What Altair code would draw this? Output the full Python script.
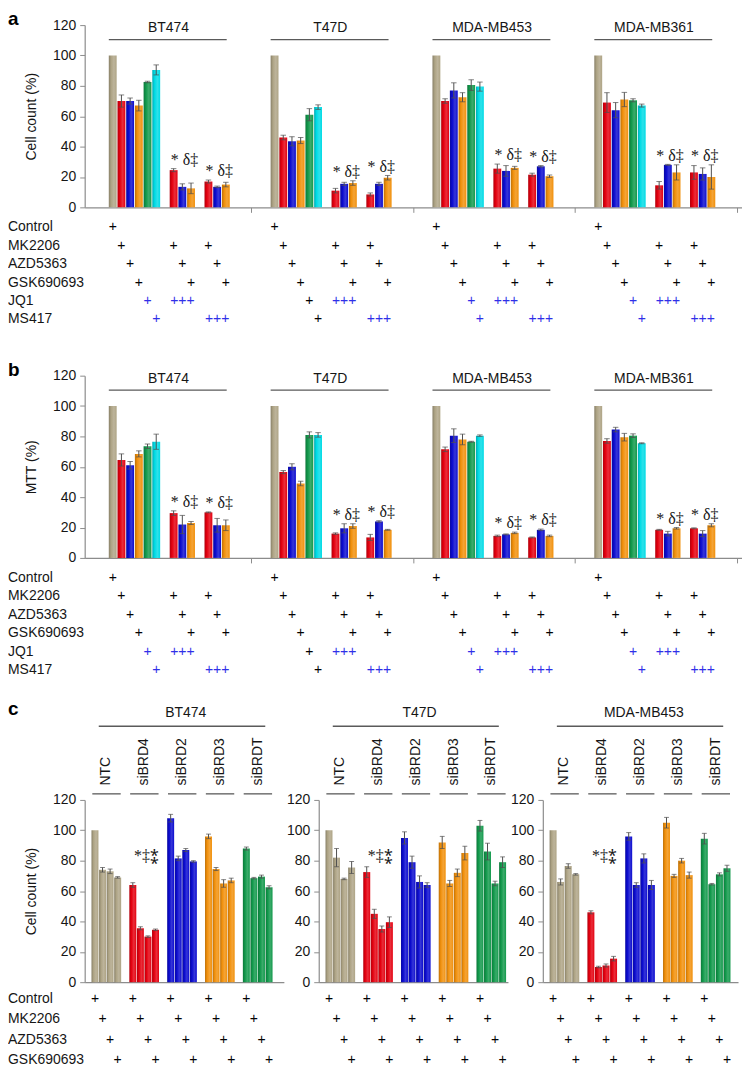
import altair as alt
import pandas as pd

FONT = "Liberation Sans"
SERIF = "Liberation Serif"
INK = "#161616"
BLUE_INK = "#2d2de8"
AXIS_GREY = "#8c8c8c"
LINE_GREY = "#5a5a5a"
ERR_GREY = "#4f4f4f"

series_names = ["tan", "red", "blue", "orange", "green", "cyan"]
series_colors = ["#aea485", "#e4000f", "#0b0bcf", "#f1900b", "#11994b", "#00dbe5"]

# ---------------- panels a and b ----------------
cells_ab = ["BT474", "T47D", "MDA-MB453", "MDA-MB361"]
treatments_ab = ["Control", "MK2206", "AZD5363", "GSK690693", "JQ1", "MS417",
                 "MK2206+JQ1", "AZD5363+JQ1", "GSK690693+JQ1",
                 "MK2206+MS417", "AZD5363+MS417", "GSK690693+MS417"]
series_ab = ["tan", "red", "blue", "orange", "green", "cyan",
             "red", "blue", "orange", "red", "blue", "orange"]
slot_ab = [0, 1, 2, 3, 4, 5, 7, 8, 9, 11, 12, 13]
combo_groups_ab = [[6, 7, 8], [9, 10, 11]]
rows_ab = ["Control", "MK2206", "AZD5363", "GSK690693", "JQ1", "MS417"]

sign_row_ab = ["Control", "MK2206", "MK2206", "MK2206", "AZD5363", "AZD5363", "AZD5363",
               "GSK690693", "GSK690693", "GSK690693", "JQ1", "JQ1", "MS417", "MS417"]
sign_slot_ab = [0, 1, 7, 11, 2, 8, 12, 3, 9, 13, 4, 8, 5, 12]
sign_text_ab = ["+", "+", "+", "+", "+", "+", "+", "+", "+", "+", "+", "+++", "+", "+++"]
sign_blue_ab = [False] * 10 + [True, True, True, True]
black_single_cells = ["T47D"]

# panel a: cell count (%)
a_bt474 = [100, 70, 70, 67, 82.5, 90.5, 24.5, 13.5, 12.5, 17, 13.5, 15]
a_bt474_err = [0, 4, 2, 3.5, 0.5, 3.3, 1, 2, 3.5, 1, 0.5, 1.5]
a_t47d = [100, 46, 43.5, 44, 61, 66, 11, 15.5, 16, 8.5, 15.5, 19.5]
a_t47d_err = [0, 1.5, 3, 2, 4, 1.5, 1.5, 1, 1.5, 1, 1, 1.5]
a_mb453 = [100, 70, 77, 72.5, 80.5, 79.5, 25.5, 24, 26, 21.5, 27, 20.5]
a_mb453_err = [0, 1.5, 5, 3, 3.5, 3, 3, 3.5, 1, 1, 0.5, 0.8]
a_mb361 = [100, 69, 64, 71, 70.5, 67, 14.5, 28, 23, 23, 22, 20]
a_mb361_err = [0, 6.5, 5, 4.7, 1, 1, 2.5, 0.3, 5, 4.5, 4, 8]

# panel b: MTT (%)
b_bt474 = [100, 64.5, 61, 68.5, 73.5, 76.5, 29.5, 22, 23, 30, 21.5, 21.5]
b_bt474_err = [0, 4, 2.5, 2, 1.5, 5, 1.5, 6, 1, 0.3, 4.5, 3.5]
b_t47d = [100, 56.5, 60, 49, 81, 81, 16, 19.5, 21, 13.5, 24, 18.5]
b_t47d_err = [0, 1, 2, 1.5, 2, 1.5, 0.5, 3, 1.5, 2, 0.5, 0.3]
b_mb453 = [100, 71.5, 80.5, 78, 76.5, 80.5, 14.5, 15.5, 16.5, 13.5, 18.5, 14.5]
b_mb453_err = [0, 1.5, 4.5, 3.5, 0.3, 0.5, 0.5, 0.3, 0.5, 0.3, 0.5, 0.5]
b_mb361 = [100, 77, 84.5, 79.5, 80.5, 75.5, 18.5, 16, 19.5, 19.5, 16, 21.5]
b_mb361_err = [0, 1.5, 1.5, 2.5, 1.2, 0.3, 0.3, 1.5, 0.5, 0.3, 2, 1]

# ---------------- panel c ----------------
cells_c = ["BT474", "T47D", "MDA-MB453"]
sirna_c = ["NTC", "siBRD4", "siBRD2", "siBRD3", "siBRDT"]
sirna_series_c = ["tan", "red", "blue", "orange", "green"]
rows_c = ["Control", "MK2206", "AZD5363", "GSK690693"]

c_bt474 = [100, 74, 73, 69, 64, 35.5, 30, 34.5, 108, 81.5, 87, 79.5,
           96, 74.5, 65, 67, 88, 68.5, 69.5, 62.5]
c_bt474_err = [0, 1.5, 1.5, 0.5, 1.5, 1, 0.5, 0.5, 2.5, 1.5, 1, 0.5,
               1.5, 1, 2.5, 1.5, 1, 0.5, 1, 1]
c_t47d = [100, 82, 68, 75.5, 72.5, 45, 35, 39.5, 95, 79, 66, 64,
          92, 65, 72, 85, 103, 86, 65, 79]
c_t47d_err = [0, 6, 0.5, 4, 3.5, 3, 2, 3.5, 4, 4, 4, 1.5,
              4, 2, 2.5, 4.5, 3.5, 5.5, 1.5, 3.5]
c_mb453 = [100, 66, 76.5, 71, 46, 10, 11, 15.5, 96, 64, 81.5, 64,
           105, 70, 80, 70.5, 94.5, 64.5, 71, 75]
c_mb453_err = [0, 2, 1.5, 0.5, 1, 0.5, 1, 1.5, 2.5, 1.5, 3, 3,
               3.5, 1, 1.5, 2, 3.5, 0.5, 1, 2]

# ---------------- layout constants ----------------
H = 183
BLOCK_AB = 18.6
X0_AB = -2.65
W_AB = 660
ROW_TOP_AB = 20
ROW_GAP_AB = 18.5
ROW_TOP_C = 17
ROW_GAP_C = 20.3
LABEL_X = -77
YTICKS = [0, 20, 40, 60, 80, 100, 120]

yscale = alt.Scale(domain=[0, 120], nice=False)


def mix(c1, c2, t):
    a = [int(c1[i:i + 2], 16) for i in (1, 3, 5)]
    b = [int(c2[i:i + 2], 16) for i in (1, 3, 5)]
    return "#" + "".join(f"{round(x + (y - x) * t):02x}" for x, y in zip(a, b))


def bar_fill(base):
    return alt.LinearGradient(
        gradient="linear", x1=0, x2=1, y1=0, y2=0,
        stops=[alt.GradientStop(color=mix(base, "#000000", 0.22), offset=0),
               alt.GradientStop(color=base, offset=0.3),
               alt.GradientStop(color=mix(base, "#ffffff", 0.18), offset=0.65),
               alt.GradientStop(color=base, offset=1)])


def y_axis(title):
    return alt.Axis(values=YTICKS, title=title, tickSize=5, labelPadding=4,
                    titlePadding=14, domainColor=AXIS_GREY, tickColor=AXIS_GREY,
                    domainWidth=1.2, grid=False, labelFontSize=14, titleFontSize=14,
                    labelColor=INK, titleColor=INK, labelFont=FONT, titleFont=FONT,
                    titleFontWeight="normal")


class Enc:
    def __init__(self, xscale, xaxis, yaxis):
        self.xscale, self.xaxis, self.yaxis = xscale, xaxis, yaxis

    def x(self, f):
        return alt.X(f"{f}:Q", scale=self.xscale, axis=self.xaxis)

    def y(self, f):
        return alt.Y(f"{f}:Q", scale=yscale, axis=self.yaxis)


def bar_layers(df, enc, barsize):
    out = []
    for name, base in zip(series_names, series_colors):
        sub = df[df.series == name]
        if len(sub) == 0:
            continue
        out.append(alt.Chart(sub).mark_bar(size=barsize, color=bar_fill(base)).encode(
            x=enc.x("x"), y=enc.y("v")))
    edf = df[df.e > 0]
    rule = alt.Chart(edf).mark_rule(color=ERR_GREY, strokeWidth=1).encode(
        x=enc.x("x"), y=enc.y("lo"), y2="hi:Q")
    cap_lo = alt.Chart(edf).mark_tick(orient="horizontal", size=barsize * 0.7,
                                      thickness=1, color=ERR_GREY).encode(
        x=enc.x("x"), y=enc.y("lo"))
    cap_hi = alt.Chart(edf).mark_tick(orient="horizontal", size=barsize * 0.7,
                                      thickness=1, color=ERR_GREY).encode(
        x=enc.x("x"), y=enc.y("hi"))
    return out + [rule, cap_lo, cap_hi]


def make_ab(panel_letter, ytitle, vals, errs):
    recs = []
    for g, cell in enumerate(cells_ab):
        for i, t in enumerate(treatments_ab):
            v, e = vals[g][i], errs[g][i]
            recs.append({"cell": cell, "treat": t, "series": series_ab[i],
                         "x": g * BLOCK_AB + slot_ab[i], "v": v, "e": e,
                         "lo": v - e, "hi": v + e})
    df = pd.DataFrame(recs)

    xscale = alt.Scale(domain=[X0_AB, X0_AB + 4 * BLOCK_AB], nice=False, zero=False)
    xaxis = alt.Axis(values=[round(X0_AB + k * BLOCK_AB, 3) for k in range(1, 5)],
                     labels=False, title=None, grid=False, tickSize=5, tickColor=AXIS_GREY,
                     domainColor=AXIS_GREY, domainWidth=1.2)
    enc = Enc(xscale, xaxis, y_axis(ytitle))
    layers = bar_layers(df, enc, 7.9)

    head = pd.DataFrame({
        "cell": cells_ab,
        "xc": [g * BLOCK_AB + 6.4 for g in range(4)],
        "x1": [g * BLOCK_AB - 0.45 for g in range(4)],
        "x2": [g * BLOCK_AB + 13.1 for g in range(4)],
        "yt": [118] * 4, "yl": [110.5] * 4,
    })
    head_text = alt.Chart(head).mark_text(fontSize=14, color=INK, baseline="middle").encode(
        x=enc.x("xc"), y=enc.y("yt"), text="cell:N")
    head_rule = alt.Chart(head).mark_rule(color=LINE_GREY, strokeWidth=1.3).encode(
        x=enc.x("x1"), x2="x2:Q", y=enc.y("yl"))

    arecs = []
    for cell in cells_ab:
        sub = df[df.cell == cell].reset_index(drop=True)
        for grp in combo_groups_ab:
            arecs.append({"x": sub.loc[grp[1], "x"] + 0.25,
                          "y": sub.loc[grp, "hi"].max() + 2.5, "t": "* δ‡"})
    annot = alt.Chart(pd.DataFrame(arecs)).mark_text(
        font=SERIF, fontSize=16, color=INK, baseline="alphabetic").encode(
        x=enc.x("x"), y=enc.y("y"), text="t:N")

    letter = alt.Chart(pd.DataFrame({"t": [panel_letter]})).mark_text(
        fontSize=19, fontWeight="bold", color="#000", align="left", baseline="middle").encode(
        x=alt.value(LABEL_X), y=alt.value(-6), text="t:N")

    main = alt.layer(*layers, head_rule, head_text, annot, letter)

    srecs = []
    for g, cell in enumerate(cells_ab):
        for r, s, t, b in zip(sign_row_ab, sign_slot_ab, sign_text_ab, sign_blue_ab):
            blue = b and not (cell in black_single_cells and t == "+")
            srecs.append({"x": g * BLOCK_AB + s, "ri": rows_ab.index(r), "t": t,
                          "ink": "blue" if blue else "black"})
    sdf = pd.DataFrame(srecs)
    yrow = alt.Y("ri:Q", scale=alt.Scale(domain=[0, len(rows_ab) - 1], nice=False, zero=False,
                                         range=[H + ROW_TOP_AB,
                                                H + ROW_TOP_AB + (len(rows_ab) - 1) * ROW_GAP_AB]),
                 axis=None)
    signs_k = alt.Chart(sdf[sdf.ink == "black"]).mark_text(
        fontSize=14, color="#000000", opacity=0.99, baseline="middle").encode(
        x=enc.x("x"), y=yrow, text="t:N")
    signs_b = alt.Chart(sdf[sdf.ink == "blue"]).mark_text(
        fontSize=14, color=BLUE_INK, opacity=0.99, baseline="middle").encode(
        x=enc.x("x"), y=yrow, text="t:N")
    rlab = alt.Chart(pd.DataFrame({"ri": list(range(len(rows_ab))), "t": rows_ab})).mark_text(
        fontSize=14, color=INK, align="left", baseline="middle").encode(
        x=alt.value(LABEL_X), y=yrow, text="t:N")
    rows_layer = alt.layer(signs_k, signs_b, rlab)

    return alt.layer(main, rows_layer).resolve_scale(y="independent").properties(
        width=W_AB, height=H)


def make_c(idx, vals, errs, xmax):
    cell = cells_c[idx]
    first = idx == 0
    recs = []
    for g, s in enumerate(sirna_c):
        for b in range(4):
            k = g * 4 + b
            v, e = vals[k], errs[k]
            recs.append({"sirna": s, "series": sirna_series_c[g], "x": g * 5 + b,
                         "v": v, "e": e, "lo": v - e, "hi": v + e})
    df = pd.DataFrame(recs)
    xscale = alt.Scale(domain=[-0.7, xmax], nice=False, zero=False)
    xaxis = alt.Axis(labels=False, ticks=False, title=None, grid=False,
                     domainColor=AXIS_GREY, domainWidth=1.2)
    enc = Enc(xscale, xaxis, y_axis("Cell count (%)" if first else None))
    layers = bar_layers(df, enc, 7)

    head = pd.DataFrame({"cell": [cell], "xc": [12.0], "x1": [0.5], "x2": [22.5],
                         "yt": [177], "yl": [168.5]})
    head_text = alt.Chart(head).mark_text(fontSize=14, color=INK, baseline="middle").encode(
        x=enc.x("xc"), y=enc.y("yt"), text="cell:N")
    head_rule = alt.Chart(head).mark_rule(color=LINE_GREY, strokeWidth=1.3).encode(
        x=enc.x("x1"), x2="x2:Q", y=enc.y("yl"))

    gl = pd.DataFrame({"t": sirna_c,
                       "xc": [g * 5 + 1.5 for g in range(5)],
                       "x1": [g * 5 - 0.35 for g in range(5)],
                       "x2": [g * 5 + 3.4 for g in range(5)],
                       "yt": [129.5] * 5, "yl": [124] * 5})
    gl_text = alt.Chart(gl).mark_text(fontSize=14, color=INK, angle=270, align="left",
                                      baseline="middle").encode(
        x=enc.x("xc"), y=enc.y("yt"), text="t:N")
    gl_rule = alt.Chart(gl).mark_rule(color=LINE_GREY, strokeWidth=1.3).encode(
        x=enc.x("x1"), x2="x2:Q", y=enc.y("yl"))

    an = pd.DataFrame({"x": [5 + 1.5 + 0.3], "y": [83], "t": ["*‡⁑"]})
    an_text = alt.Chart(an).mark_text(font=SERIF, fontSize=16, color=INK,
                                      baseline="middle").encode(
        x=enc.x("x"), y=enc.y("y"), text="t:N")

    parts = layers + [head_rule, head_text, gl_rule, gl_text, an_text]
    if first:
        letter = alt.Chart(pd.DataFrame({"t": ["c"], "y": [180]})).mark_text(
            fontSize=19, fontWeight="bold", color="#000", align="left",
            baseline="middle").encode(x=alt.value(LABEL_X), y=enc.y("y"), text="t:N")
        parts.append(letter)
    main = alt.layer(*parts)

    srecs = []
    for g in range(5):
        for r in range(4):
            srecs.append({"x": g * 5 + r, "ri": r, "t": "+"})
    yrow = alt.Y("ri:Q", scale=alt.Scale(domain=[0, 3], nice=False, zero=False,
                                         range=[H + ROW_TOP_C, H + ROW_TOP_C + 3 * ROW_GAP_C]),
                 axis=None)
    signs = alt.Chart(pd.DataFrame(srecs)).mark_text(
        fontSize=14, color="#000000", opacity=0.99, baseline="middle").encode(
        x=enc.x("x"), y=yrow, text="t:N")
    rparts = [signs]
    if first:
        rlab = alt.Chart(pd.DataFrame({"ri": list(range(4)), "t": rows_c})).mark_text(
            fontSize=14, color=INK, align="left", baseline="middle").encode(
            x=alt.value(LABEL_X), y=yrow, text="t:N")
        rparts.append(rlab)
    rows_layer = alt.layer(*rparts)
    width = round((xmax + 0.7) * 8)
    return alt.layer(main, rows_layer).resolve_scale(y="independent").properties(
        width=width, height=H)


panel_a = make_ab("a", "Cell count (%)",
                  [a_bt474, a_t47d, a_mb453, a_mb361],
                  [a_bt474_err, a_t47d_err, a_mb453_err, a_mb361_err])
panel_b = make_ab("b", "MTT (%)",
                  [b_bt474, b_t47d, b_mb453, b_mb361],
                  [b_bt474_err, b_t47d_err, b_mb453_err, b_mb361_err])
panel_c = alt.hconcat(
    make_c(0, c_bt474, c_bt474_err, 24.3),
    make_c(1, c_t47d, c_t47d_err, 23.05),
    make_c(2, c_mb453, c_mb453_err, 23.8),
    spacing=2,
)

top = alt.vconcat(panel_a, panel_b, spacing=34)
chart = alt.vconcat(top, panel_c, spacing=22).properties(padding=0).configure(
    font=FONT
).configure_view(stroke=None).configure_axis(
    labelFont=FONT, titleFont=FONT, labelFontSize=14, titleFontSize=14,
    labelColor=INK, titleColor=INK, titleFontWeight="normal", grid=False,
)

chart.save("out.html", embed_options={"renderer": "svg", "actions": False})
